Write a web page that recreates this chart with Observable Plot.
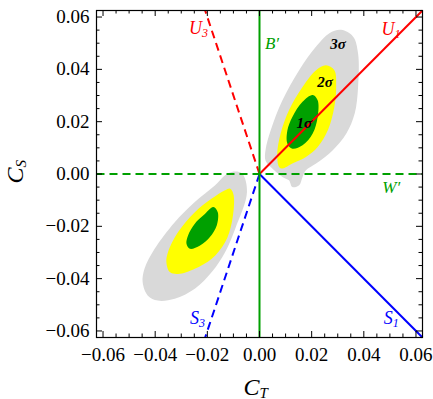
<!DOCTYPE html>
<html><head><meta charset="utf-8">
<script src="https://cdn.jsdelivr.net/npm/d3@7"></script>
<script src="https://cdn.jsdelivr.net/npm/@observablehq/plot@0.6"></script>
<style>body{margin:0;background:#fff} svg{display:block}</style>
</head><body><div id="chart"></div>
<script>
// ---------- data ----------
const xDomain = [-0.0625, 0.0625];
const yDomain = [-0.0625, 0.0625];
const majorTicks = [-0.06, -0.04, -0.02, 0, 0.02, 0.04, 0.06];
const minorTicks = [-0.055, -0.05, -0.045, -0.035, -0.03, -0.025, -0.015, -0.01, -0.005,
                    0.005, 0.01, 0.015, 0.025, 0.03, 0.035, 0.045, 0.05, 0.055];

// allowed regions (C_T, C_S)
const upper3sigma = [[0.0313,0.0551],[0.0359,0.0525],[0.0378,0.0461],[0.0378,0.0333],[0.0365,0.0231],[0.0333,0.0155],[0.0281,0.0091],[0.0217,0.0040],[0.0178,0.0014],[0.0165,-0.0011],[0.0152,-0.0043],[0.0126,-0.0050],[0.0113,-0.0024],[0.0088,-0.0011],[0.0043,0.0027],[0.0023,0.0052],[0.0023,0.0091],[0.0043,0.0167],[0.0088,0.0282],[0.0152,0.0397],[0.0217,0.0487],[0.0268,0.0538]];
const upper2sigma = [[0.0255,0.0416],[0.0287,0.0397],[0.0294,0.0333],[0.0287,0.0257],[0.0262,0.0167],[0.0223,0.0103],[0.0178,0.0065],[0.0126,0.0040],[0.0088,0.0021],[0.0075,0.0027],[0.0068,0.0078],[0.0081,0.0155],[0.0113,0.0244],[0.0165,0.0333],[0.0217,0.0397]];
const upper1sigma = [[0.0204,0.0302],[0.0223,0.0282],[0.0223,0.0218],[0.0204,0.0155],[0.0165,0.0110],[0.0126,0.0097],[0.0107,0.0116],[0.0107,0.0167],[0.0126,0.0218],[0.0165,0.0276]];
const lower3sigma = [[-0.0106,0.0008],[-0.0067,0.0002],[-0.0048,-0.0069],[-0.0093,-0.0209],[-0.0132,-0.0299],[-0.0183,-0.0375],[-0.0248,-0.0439],[-0.0325,-0.0477],[-0.0390,-0.0484],[-0.0428,-0.0465],[-0.0448,-0.0414],[-0.0441,-0.0362],[-0.0402,-0.0286],[-0.0325,-0.0184],[-0.0248,-0.0107],[-0.0170,-0.0043],[-0.0132,-0.0005]];
const lower2sigma = [[-0.0112,-0.0056],[-0.0099,-0.0082],[-0.0106,-0.0184],[-0.0132,-0.0261],[-0.0183,-0.0324],[-0.0248,-0.0362],[-0.0312,-0.0382],[-0.0344,-0.0375],[-0.0357,-0.0337],[-0.0351,-0.0299],[-0.0312,-0.0222],[-0.0248,-0.0146],[-0.0183,-0.0094],[-0.0132,-0.0062]];
const lower1sigma = [[-0.0177,-0.0126],[-0.0160,-0.0146],[-0.0164,-0.0197],[-0.0190,-0.0241],[-0.0228,-0.0273],[-0.0267,-0.0286],[-0.0280,-0.0267],[-0.0274,-0.0235],[-0.0248,-0.0190],[-0.0215,-0.0158]];

const regionColors = {s3: "#d9d9d9", s2: "#ffff00", s1: "#00a000"};

// model lines through origin: direction (dCT, dCS); ray or full line
const modelLines = [
  {name: "U1", dir: [1, 1],   full: false, color: "#ff0000", dash: null},
  {name: "S1", dir: [1, -1],  full: false, color: "#0000ff", dash: null},
  {name: "U3", dir: [-1, 3],  full: false, color: "#ff0000", dash: "8,5"},
  {name: "S3", dir: [-1, -3], full: false, color: "#0000ff", dash: "8,5"},
  {name: "B'", dir: [0, 1],   full: true,  color: "#00a000", dash: null},
  {name: "W'", dir: [1, 0],   full: true,  color: "#00a000", dash: "8,5"}
];

// labels
const subLabels = [
  {main: "U", sub: "1", ct: 0.0518, cs: 0.0552, color: "#ff0000"},
  {main: "U", sub: "3", ct: -0.0220, cs: 0.0556, color: "#ff0000"},
  {main: "S", sub: "1", ct: 0.0511, cs: -0.0551, color: "#0000ff"},
  {main: "S", sub: "3", ct: -0.0232, cs: -0.0551, color: "#0000ff"}
];
const primeLabels = [
  {text: "B′", ct: 0.0048, cs: 0.0497},
  {text: "W′", ct: 0.0505, cs: -0.0053}
];
const sigmaLabels = [
  {text: "3σ", ct: 0.0301, cs: 0.0497},
  {text: "2σ", ct: 0.0251, cs: 0.0351},
  {text: "1σ", ct: 0.0172, cs: 0.0196}
];

// ---------- geometry helpers ----------
function rayEnd(dir) {
  let t = Infinity;
  const lims = [xDomain, yDomain];
  for (let k = 0; k < 2; k++) {
    if (dir[k] > 0) t = Math.min(t, lims[k][1] / dir[k]);
    if (dir[k] < 0) t = Math.min(t, lims[k][0] / dir[k]);
  }
  return [dir[0] * t, dir[1] * t];
}
const segments = modelLines.map(l => {
  const e = rayEnd(l.dir);
  const s = l.full ? rayEnd([-l.dir[0], -l.dir[1]]) : [0, 0];
  return {...l, x1: s[0], y1: s[1], x2: e[0], y2: e[1]};
});

const W = 433, H = 399, mL = 96, mR = 11, mT = 10, mB = 62;
const fw = W - mL - mR, fh = H - mT - mB;
const serif = "'Liberation Serif', 'Times New Roman', serif";

const region = (pts, color) => Plot.line(pts, {x: d => d[0], y: d => d[1], fill: color, stroke: "none", curve: "catmull-rom-closed"});

const chart = Plot.plot({
  width: W, height: H,
  marginLeft: mL, marginRight: mR, marginTop: mT, marginBottom: mB,
  style: {fontFamily: serif, background: "#fff", color: "#000"},
  x: {domain: xDomain, label: null},
  y: {domain: yDomain, label: null},
  marks: [
    region(upper3sigma, regionColors.s3),
    region(lower3sigma, regionColors.s3),
    region(upper2sigma, regionColors.s2),
    region(lower2sigma, regionColors.s2),
    region(upper1sigma, regionColors.s1),
    region(lower1sigma, regionColors.s1),
    ...segments.map(s => Plot.link([s], {x1: "x1", y1: "y1", x2: "x2", y2: "y2", stroke: s.color, strokeWidth: 2, strokeDasharray: s.dash})),
    // labels
    Plot.text(subLabels, {x: "ct", y: "cs", text: "main", fill: "color", textAnchor: "end", fontSize: 18, fontStyle: "italic"}),
    Plot.text(subLabels, {x: "ct", y: "cs", text: "sub", fill: "color", textAnchor: "start", dy: 5, fontSize: 12, fontStyle: "italic"}),
    Plot.text(primeLabels, {x: "ct", y: "cs", text: "text", fill: "#00a000", fontSize: 17, fontStyle: "italic"}),
    Plot.text(sigmaLabels, {x: "ct", y: "cs", text: "text", fill: "#000", fontSize: 15, fontStyle: "italic", fontWeight: "bold"}),
    // frame ticks (inward, all sides)
    Plot.tickX(majorTicks, {x: d => d, insetTop: fh - 6, stroke: "#000"}),
    Plot.tickX(majorTicks, {x: d => d, insetBottom: fh - 6, stroke: "#000"}),
    Plot.tickX(minorTicks, {x: d => d, insetTop: fh - 3.5, stroke: "#000"}),
    Plot.tickX(minorTicks, {x: d => d, insetBottom: fh - 3.5, stroke: "#000"}),
    Plot.tickY(majorTicks, {y: d => d, insetRight: fw - 6, stroke: "#000"}),
    Plot.tickY(majorTicks, {y: d => d, insetLeft: fw - 6, stroke: "#000"}),
    Plot.tickY(minorTicks, {y: d => d, insetRight: fw - 3.5, stroke: "#000"}),
    Plot.tickY(minorTicks, {y: d => d, insetLeft: fw - 3.5, stroke: "#000"}),
    Plot.frame({stroke: "#000", strokeWidth: 1.2}),
    Plot.axisX(majorTicks, {anchor: "bottom", tickSize: 0, tickPadding: 10, tickFormat: d3.format(".2f"), fontSize: 19}),
    Plot.axisY(majorTicks, {anchor: "left", tickSize: 0, tickPadding: 7, tickFormat: d3.format(".2f"), fontSize: 19}),
    // axis titles
    Plot.text([0], {x: d => d, text: () => "C", frameAnchor: "bottom", dy: 57, lineAnchor: "bottom", textAnchor: "end", fontSize: 24, fontStyle: "italic"}),
    Plot.text([0], {x: d => d, text: () => "T", frameAnchor: "bottom", dy: 60, lineAnchor: "bottom", textAnchor: "start", fontSize: 15, fontStyle: "italic"}),
    Plot.text([0.0025], {y: d => d, text: () => "C", frameAnchor: "left", dx: -74, rotate: -90, lineAnchor: "bottom", textAnchor: "end", fontSize: 24, fontStyle: "italic"}),
    Plot.text([0.0025], {y: d => d, text: () => "S", frameAnchor: "left", dx: -71, rotate: -90, lineAnchor: "bottom", textAnchor: "start", fontSize: 15, fontStyle: "italic"})
  ]
});
document.getElementById("chart").append(chart);
</script>
</body></html>
